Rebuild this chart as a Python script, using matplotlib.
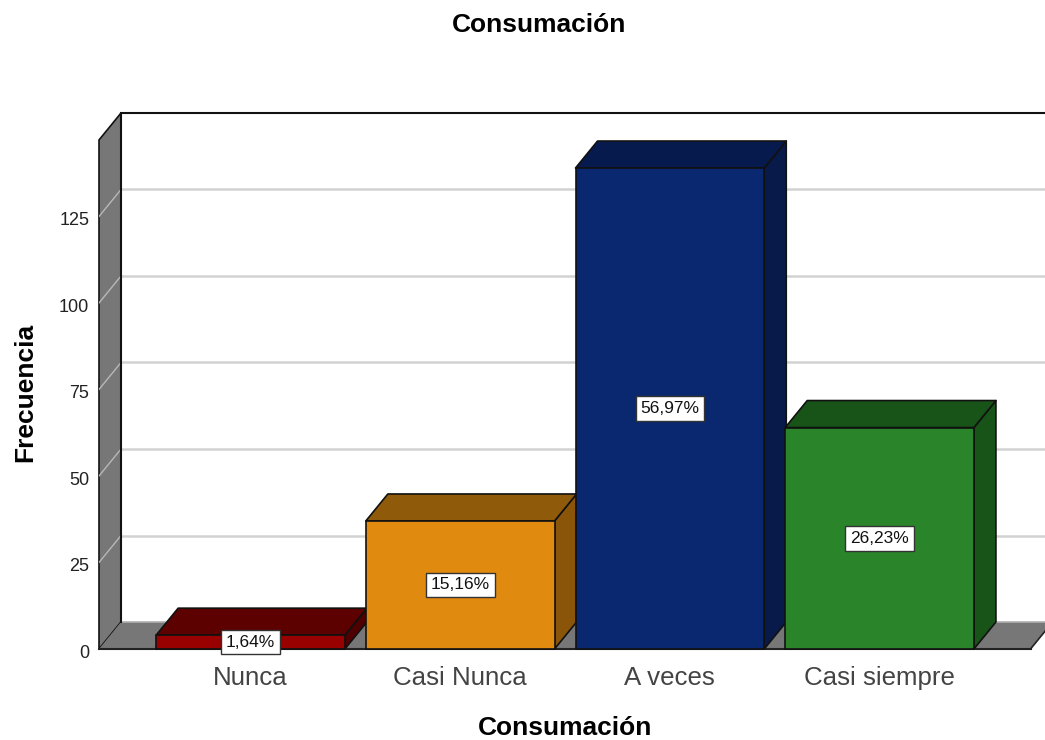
"""spss style pseudo-3d bar chart of Consumación frequencies."""
import matplotlib
matplotlib.use("Agg")
import matplotlib.pyplot as plt
from matplotlib.patches import Polygon
from matplotlib.transforms import ScaledTranslation

categories = ["Nunca", "Casi Nunca", "A veces", "Casi siempre"]
counts = [4, 37, 139, 64]
percents = ["1,64%", "15,16%", "56,97%", "26,23%"]
y_ticks = [0, 25, 50, 75, 100, 125]
front_colors = ["#990000", "#E18A10", "#0A2870", "#2A852A"]
top_colors = ["#5C0000", "#8F5A0A", "#071A4E", "#185418"]
side_colors = ["#4F0000", "#8A5509", "#071A4A", "#185418"]

BAR_W = 0.9
DX = 0.105  # depth in x units
DY = 7.8  # depth in y units
XMIN, XMAX = -0.7225, 3.789
YMAX = 154.9
WALL_TOP = YMAX - DY
FLOOR_RIGHT = 3.72

plt.rcParams["font.family"] = ["Liberation Sans", "DejaVu Sans"]

fig = plt.figure(figsize=(10.45, 7.4), dpi=100)
W, H = 1045, 740
ax = fig.add_axes([99 / W, (H - 649) / H, (1045 - 99) / W, (649 - 113) / H])
ax.set_xlim(XMIN, XMAX)
ax.set_ylim(0, YMAX)
for s in ax.spines.values():
    s.set_visible(False)


def poly(pts, fc, ec="#111111", lw=1.2, z=2):
    ax.add_patch(Polygon(pts, closed=True, fc=fc, ec=ec, lw=lw, zorder=z,
                         clip_on=False, joinstyle="round"))


# side wall and floor
poly([(XMIN, 0), (XMIN + DX, DY), (XMIN + DX, YMAX), (XMIN, WALL_TOP)], "#777777", z=1)
poly([(XMIN, 0), (XMIN + DX, DY), (XMAX, DY), (FLOOR_RIGHT + DX, DY),
      (FLOOR_RIGHT, 0)], "#777777", ec="none", z=1)
ax.plot([XMIN + DX, XMAX], [DY, DY], color="#b0b0b0", lw=1.2, zorder=1.2)
ax.plot([XMIN, FLOOR_RIGHT], [0, 0], color="#222222", lw=1.5, zorder=1.5, clip_on=False)
ax.plot([FLOOR_RIGHT, FLOOR_RIGHT + DX], [0, DY], color="#222222", lw=1.2, zorder=1.5)
ax.plot([XMIN + DX, XMIN + DX], [DY, YMAX], color="#111111", lw=1.5, zorder=1.6)
ax.plot([XMIN + DX, XMAX], [YMAX, YMAX], color="#111111", lw=1.5, zorder=1.6, clip_on=False)

# gridlines on back wall and wall side
for v in y_ticks[1:]:
    ax.plot([XMIN + DX, XMAX], [v + DY, v + DY], color="#d2d2d2", lw=1.8, zorder=1.1)
    ax.plot([XMIN, XMIN + DX], [v, v + DY], color="#b8b8b8", lw=1.0, zorder=1.3)

# bars
for i, (v, pct) in enumerate(zip(counts, percents)):
    x0, x1 = i - BAR_W / 2, i + BAR_W / 2
    z = 3 + i
    poly([(x1, 0), (x1 + DX, DY), (x1 + DX, v + DY), (x1, v)], side_colors[i], z=z)
    poly([(x0, v), (x0 + DX, v + DY), (x1 + DX, v + DY), (x1, v)], top_colors[i], z=z)
    poly([(x0, 0), (x1, 0), (x1, v), (x0, v)], front_colors[i], z=z + 0.1)
    ypos = v / 2 if v > 10 else 2
    ax.text(i, ypos, pct, ha="center", va="center", fontsize=12.5, color="#111111", zorder=10,
            bbox=dict(boxstyle="square,pad=0.28", fc="white", ec="#333333", lw=1))

ax.set_xticks(range(len(categories)))
ax.set_xticklabels(categories, fontsize=18.6, color="#444444", fontweight="light")
ax.set_yticks(y_ticks)
ax.set_yticklabels([str(v) for v in y_ticks], fontsize=13, color="#222222")
ax.tick_params(axis="both", length=0)
ax.tick_params(axis="x", pad=12)
ax.tick_params(axis="y", pad=7)
# y labels sit a little lower than the ticks in the original
nudge = ScaledTranslation(0, -1.5 / 72, fig.dpi_scale_trans)
for lab in ax.get_yticklabels():
    lab.set_transform(lab.get_transform() + nudge)
ax.patch.set_alpha(0)

fig.text(539 / W, 1 - 25 / H, "Consumación", ha="center", va="center", fontsize=19, fontweight="bold")
fig.text(565 / W, 1 - 728 / H, "Consumación", ha="center", va="center", fontsize=19, fontweight="bold")
fig.text(25 / W, 1 - 392 / H, "Frecuencia", rotation=90, ha="center", va="center", fontsize=19, fontweight="bold")

fig.savefig("out.png", dpi=100)
